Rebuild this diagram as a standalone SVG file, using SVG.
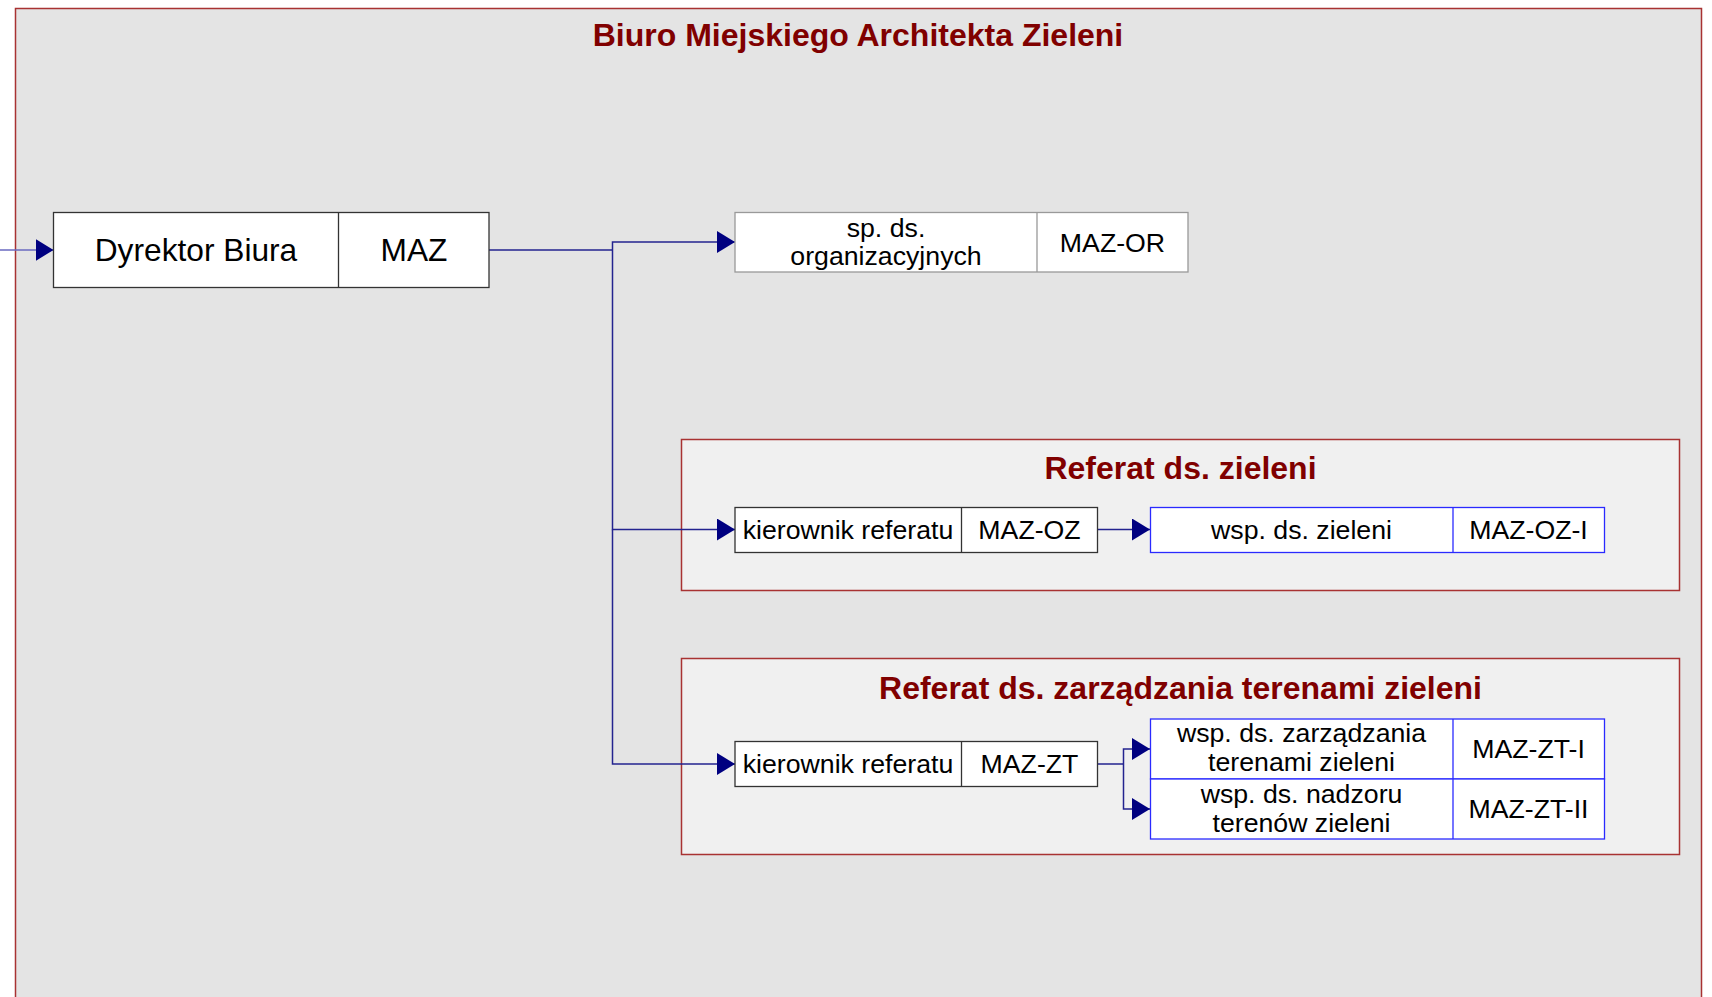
<svg xmlns="http://www.w3.org/2000/svg" width="1712" height="997" viewBox="0 0 1712 997">
<defs>
<style>
.t{font-family:"Liberation Sans",Arial,sans-serif;fill:#000;text-anchor:middle}
.r{font-size:26.7px}
.big{font-size:31.7px}
.h{font-family:"Liberation Sans",Arial,sans-serif;font-weight:bold;font-size:32px;fill:#800000;text-anchor:middle}
.cell{fill:#fff;stroke:#333;stroke-width:1.3}
.cellg{fill:#fff;stroke:#999;stroke-width:1.3}
.cellb{fill:#fff;stroke:#2a2aff;stroke-width:1.3}
.c{fill:none;stroke:#23238f;stroke-width:1.5}
</style>
<marker id="ah" markerUnits="userSpaceOnUse" markerWidth="18" markerHeight="22" viewBox="0 0 18 22" refX="18" refY="11" orient="auto">
<path d="M0,0 L18,11 L0,22 Z" fill="#000080"/>
</marker>
</defs>
<rect width="1712" height="997" fill="#fff"/>
<g id="biuro">
<rect x="15.5" y="8.5" width="1686" height="1100" fill="#e4e4e4" stroke="#a83232" stroke-width="1.5"/>
<text class="h" x="858" y="46">Biuro Miejskiego Architekta Zieleni</text>
</g>
<g id="referat-zieleni">
<rect x="681.5" y="439.5" width="998" height="151" fill="#f0f0f0" stroke="#a83232" stroke-width="1.5"/>
<text class="h" x="1180.5" y="478.5">Referat ds. zieleni</text>
</g>
<g id="referat-zt">
<rect x="681.5" y="658.5" width="998" height="196" fill="#f0f0f0" stroke="#a83232" stroke-width="1.5"/>
<text class="h" x="1180.5" y="698.5">Referat ds. zarządzania terenami zieleni</text>
</g>
<g id="connectors">
<line x1="0" y1="250" x2="53.5" y2="250" stroke="#6a6ac0" stroke-width="1.5" marker-end="url(#ah)"/>
<polyline class="c" points="489,250 612.5,250" stroke-width="2"/>
<polyline class="c" points="612.5,250 612.5,242 735,242" marker-end="url(#ah)"/>
<polyline class="c" points="612.5,250 612.5,529.5 735,529.5" marker-end="url(#ah)"/>
<polyline class="c" points="612.5,529.5 612.5,764 735,764" marker-end="url(#ah)"/>
<polyline class="c" points="1097.5,529.5 1150,529.5" marker-end="url(#ah)"/>
<polyline class="c" points="1097.5,764 1123.5,764"/>
<polyline class="c" points="1123.5,764 1123.5,749 1150,749" marker-end="url(#ah)"/>
<polyline class="c" points="1123.5,764 1123.5,809 1150,809" marker-end="url(#ah)"/>
</g>
<g id="dyrektor">
<rect class="cell" x="53.5" y="212.5" width="435.5" height="75"/>
<line x1="338.5" y1="212.5" x2="338.5" y2="287.5" stroke="#333" stroke-width="1.3"/>
<text class="t big" x="196" y="260.5">Dyrektor Biura</text>
<text class="t big" x="414" y="260.5">MAZ</text>
</g>
<g id="maz-or">
<rect class="cellg" x="735" y="212.5" width="453" height="59.5"/>
<line x1="1037" y1="212.5" x2="1037" y2="272" stroke="#999" stroke-width="1.3"/>
<text class="t r" x="886" y="237">sp. ds.</text>
<text class="t r" x="886" y="265">organizacyjnych</text>
<text class="t r" x="1112.5" y="251.5">MAZ-OR</text>
</g>
<g id="maz-oz">
<rect class="cell" x="735" y="507.5" width="362.5" height="45"/>
<line x1="961.5" y1="507.5" x2="961.5" y2="552.5" stroke="#333" stroke-width="1.3"/>
<text class="t r" x="848" y="539">kierownik referatu</text>
<text class="t r" x="1029.5" y="539">MAZ-OZ</text>
</g>
<g id="maz-oz-i">
<rect class="cellb" x="1150.5" y="507.5" width="454" height="45"/>
<line x1="1453" y1="507.5" x2="1453" y2="552.5" stroke="#2a2aff" stroke-width="1.3"/>
<text class="t r" x="1301.5" y="539">wsp. ds. zieleni</text>
<text class="t r" x="1528.5" y="539">MAZ-OZ-I</text>
</g>
<g id="maz-zt">
<rect class="cell" x="735" y="741.5" width="362.5" height="45"/>
<line x1="961.5" y1="741.5" x2="961.5" y2="786.5" stroke="#333" stroke-width="1.3"/>
<text class="t r" x="848" y="773">kierownik referatu</text>
<text class="t r" x="1029.5" y="773">MAZ-ZT</text>
</g>
<g id="maz-zt-i">
<rect class="cellb" x="1150.5" y="719" width="454" height="60"/>
<line x1="1453" y1="719" x2="1453" y2="779" stroke="#2a2aff" stroke-width="1.3"/>
<text class="t r" x="1301.5" y="742">wsp. ds. zarządzania</text>
<text class="t r" x="1301.5" y="771">terenami zieleni</text>
<text class="t r" x="1528.5" y="758">MAZ-ZT-I</text>
</g>
<g id="maz-zt-ii">
<rect class="cellb" x="1150.5" y="779" width="454" height="60"/>
<line x1="1453" y1="779" x2="1453" y2="839" stroke="#2a2aff" stroke-width="1.3"/>
<text class="t r" x="1301.5" y="803">wsp. ds. nadzoru</text>
<text class="t r" x="1301.5" y="832">terenów zieleni</text>
<text class="t r" x="1528.5" y="818">MAZ-ZT-II</text>
</g>
</svg>
